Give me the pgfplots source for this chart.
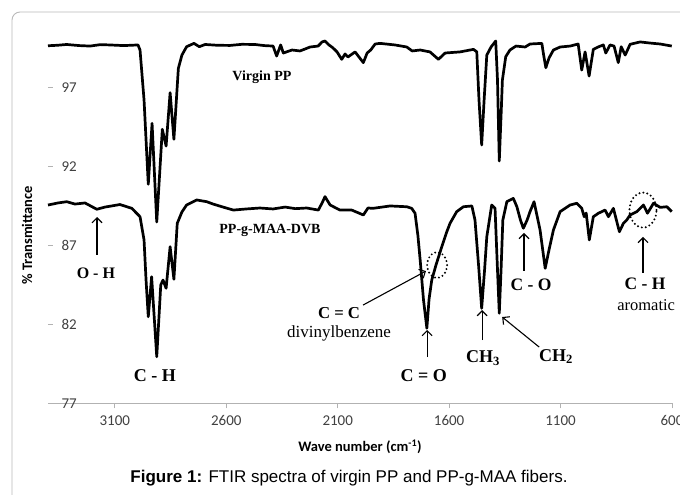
\documentclass[border=0pt]{standalone}
\usepackage{pgfplots}
\pgfplotsset{compat=1.18}
\usepackage{fontspec}
\setmainfont{Liberation Serif}
\newfontfamily\carlito{Carlito}
\newfontfamily\arial{Liberation Sans}
\usetikzlibrary{arrows.meta}

\pgfplotstableread{
x y
3400 99.63
3358 99.66
3316 99.71
3260 99.64
3211 99.61
3165 99.70
3122 99.68
3060 99.64
2996 99.68
2987 99.36
2969 96.20
2950 90.86
2933 94.72
2912 88.47
2887 94.34
2870 93.28
2852 96.66
2835 93.71
2815 98.20
2799 99.04
2778 99.57
2745 99.78
2721 99.57
2695 99.71
2640 99.66
2583 99.65
2530 99.72
2471 99.71
2430 99.64
2390 99.61
2374 98.98
2356 99.68
2344 99.17
2305 99.36
2269 99.30
2224 99.55
2188 99.61
2170 99.87
2157 99.93
2139 99.68
2121 99.49
2103 99.24
2082 98.77
2067 99.11
2054 98.92
2022 99.24
1985 98.56
1968 99.17
1952 99.36
1932 99.74
1910 99.78
1843 99.68
1790 99.55
1766 99.30
1730 99.36
1686 99.24
1648 98.77
1618 99.17
1551 99.24
1491 99.40
1476 99.25
1466 96.20
1454 93.35
1443 96.20
1431 99.04
1412 99.55
1391 99.93
1383 97.46
1375 92.34
1366 95.56
1361 97.46
1346 98.94
1327 99.36
1300 99.61
1259 99.55
1237 99.74
1184 99.78
1176 99.04
1166 98.24
1152 98.85
1132 99.36
1102 99.55
1057 99.61
1021 99.74
1005 98.09
990 99.24
972 97.71
953 99.40
932 99.55
908 99.68
897 99.17
878 99.68
860 99.61
841 98.56
828 99.57
810 99.04
788 99.72
743 99.87
698 99.80
653 99.74
601 99.61
}\virgin

\pgfplotstableread{
x y
3400 89.55
3355 89.68
3316 89.76
3279 89.61
3234 89.68
3181 89.28
3144 89.42
3077 89.58
3024 89.34
2987 88.81
2969 87.34
2960 84.80
2950 82.48
2935 85.01
2912 79.95
2894 84.49
2884 84.80
2870 84.28
2852 86.91
2835 84.85
2820 88.39
2799 89.11
2778 89.55
2733 89.87
2688 89.76
2659 89.61
2610 89.40
2568 89.23
2510 89.30
2449 89.36
2390 89.30
2336 89.42
2290 89.32
2239 89.36
2187 89.23
2170 89.68
2157 90.08
2134 89.55
2090 89.23
2037 89.23
1985 88.92
1964 89.36
1941 89.34
1865 89.49
1790 89.44
1768 89.34
1753 89.03
1740 87.60
1730 86.07
1715 83.54
1700 81.75
1690 83.60
1678 84.80
1659 85.75
1633 86.91
1612 87.80
1596 88.39
1566 89.13
1536 89.44
1498 89.49
1484 88.60
1468 85.75
1454 83.01
1441 85.44
1431 87.54
1409 89.55
1394 89.34
1383 85.44
1375 82.70
1367 85.44
1359 88.60
1341 89.76
1312 89.97
1296 89.44
1280 88.60
1267 88.08
1250 88.60
1237 89.13
1219 89.76
1192 87.97
1169 85.54
1152 86.70
1132 87.97
1102 89.13
1057 89.55
1027 89.66
1005 89.34
994 88.81
985 89.04
971 87.34
953 88.81
930 89.03
900 89.23
885 88.81
863 89.34
836 87.86
818 88.39
803 88.60
788 88.92
758 89.13
728 89.55
710 89.03
683 89.66
653 89.40
623 89.44
601 89.13
}\graft

\begin{document}
\begin{tikzpicture}
\begin{axis}[
  at={(0,0)}, anchor=south west,
  scale only axis, width=624bp, height=379.2bp,
  x dir=reverse, xmin=600, xmax=3400, ymin=77, ymax=101,
  clip=false,
  axis x line=bottom, axis y line=left,
  axis line style={-, draw=gray!60, line width=0.8bp},
  y axis line style={draw=none},
  xtick={600,1100,1600,2100,2600,3100},
  xticklabels={600,1100,1600,2100,2600,3100},
  ytick={77,82,87,92,97},
  yticklabels={77,82,87,92,97},
  tick align=outside,
  major tick length=5bp,
  x tick style={draw=gray!60, line width=0.8bp},
  y tick style={draw=gray!60, line width=0.8bp, xshift=5bp},
  tick label style={font=\carlito\fontsize{15bp}{17bp}\selectfont, text=black!75},
  yticklabel style={anchor=west, xshift=15bp},
  xticklabel style={yshift=-4bp},
  xlabel={Wave number (cm\textsuperscript{-1})},
  ylabel={\% Transmittance},
  every axis x label/.style={at={(rel axis cs:0.5,0)}, yshift=-43.7bp, anchor=center, font=\carlito\bfseries\fontsize{14.5bp}{16bp}\selectfont},
  every axis y label/.style={at={(rel axis cs:0,0.443)}, xshift=-21bp, rotate=90, anchor=center, font=\carlito\bfseries\fontsize{14.5bp}{16bp}\selectfont},
]
\addplot[black, line width=2.7bp, line join=round, mark=none] table[x=x,y=y] {\virgin};
\addplot[black, line width=2.7bp, line join=round, mark=none] table[x=x,y=y] {\graft};

% labels
\node[font=\bfseries\fontsize{14bp}{16bp}\selectfont] at (axis cs:2440,97.65) {Virgin PP};
\node[font=\bfseries\fontsize{14bp}{16bp}\selectfont] at (axis cs:2404,87.91) {PP-g-MAA-DVB};
\node[font=\bfseries\fontsize{16bp}{18bp}\selectfont] at (axis cs:3185,85.25) {O - H};
\node[font=\bfseries\fontsize{18bp}{20bp}\selectfont] at (axis cs:2920,78.73) {C - H};
\node[font=\bfseries\fontsize{18bp}{20bp}\selectfont] at (axis cs:1714,78.75) {C = O};
\node[font=\bfseries\fontsize{18bp}{20bp}\selectfont] at (axis cs:1448,79.85) {CH\textsubscript{3}};
\node[font=\bfseries\fontsize{18bp}{20bp}\selectfont] at (axis cs:1120,79.95) {CH\textsubscript{2}};
\node[font=\bfseries\fontsize{17.5bp}{20bp}\selectfont] at (axis cs:1232,84.49) {C - O};
\node[font=\bfseries\fontsize{17.5bp}{20bp}\selectfont] at (axis cs:721,84.55) {C - H};
\node[font=\fontsize{16.5bp}{18bp}\selectfont] at (axis cs:716,83.22) {aromatic};
\node[font=\bfseries\fontsize{16.7bp}{18bp}\selectfont] at (axis cs:2094,82.72) {C = C};
\node[font=\fontsize{17bp}{19bp}\selectfont] at (axis cs:2094,81.45) {divinylbenzene};

% arrows
\begin{scope}[line width=1.1bp, -{Straight Barb[length=5bp,width=10bp]}]
\draw (axis cs:3180,86.39) -- (axis cs:3180,88.79);
\draw (axis cs:1699,79.93) -- (axis cs:1699,81.64);
\draw (axis cs:1452,81.0) -- (axis cs:1452,82.90);
\draw (axis cs:1196,80.56) -- (axis cs:1362,82.46);
\draw (axis cs:1264,85.38) -- (axis cs:1264,87.78);
\draw (axis cs:730,85.25) -- (axis cs:730,87.53);
\draw (axis cs:1986,83.22) -- (axis cs:1704,85.37);
\end{scope}

% dotted ellipses
\draw[line width=2.2bp, line cap=round, dash pattern=on 0pt off 4bp] (axis cs:1654,85.75) ellipse [x radius=10bp, y radius=13bp];
\draw[line width=2.2bp, line cap=round, dash pattern=on 0pt off 4bp] (axis cs:730,89.23) ellipse [x radius=13.5bp, y radius=17.5bp];
\end{axis}

\draw[gray!55, line width=0.9bp, rounded corners=8bp] (-36bp,-130bp) -- (-36bp,391.3bp) -- (720bp,391.3bp);
\node[font=\arial\fontsize{17bp}{20bp}\selectfont] at (301bp,-74.7bp) {\textbf{Figure 1:} FTIR spectra of virgin PP and PP-g-MAA fibers.};

\pgfresetboundingbox
\path (-48bp,-91.7bp) rectangle (632bp,403.3bp);
\end{tikzpicture}
\end{document}
